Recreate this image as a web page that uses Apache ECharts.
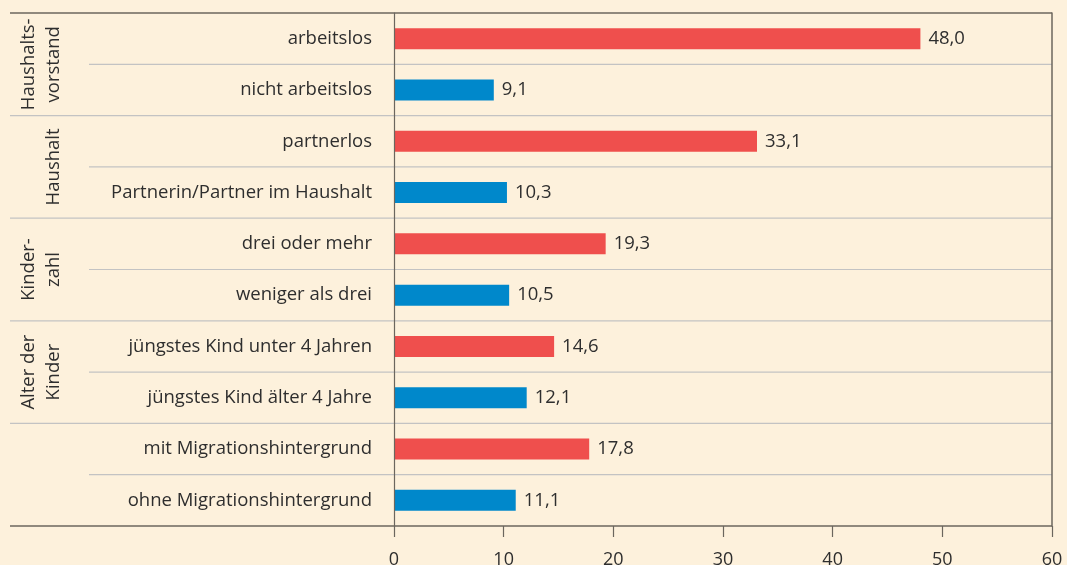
<!DOCTYPE html>
<html>
<head>
<meta charset="utf-8">
<script src="https://cdn.jsdelivr.net/npm/echarts@6/dist/echarts.min.js"></script>
<style>
  html, body { margin: 0; padding: 0; background: #fdf1dc; }
  #chart { width: 1067px; height: 565px; }
</style>
</head>
<body>
<div id="chart"></div>
<script>
// Category rows, top to bottom
const categories = [
  'arbeitslos',
  'nicht arbeitslos',
  'partnerlos',
  'Partnerin/Partner im Haushalt',
  'drei oder mehr',
  'weniger als drei',
  'jüngstes Kind unter 4 Jahren',
  'jüngstes Kind älter 4 Jahre',
  'mit Migrationshintergrund',
  'ohne Migrationshintergrund'
];
// Values in percent
const values = [48.0, 9.1, 33.1, 10.3, 19.3, 10.5, 14.6, 12.1, 17.8, 11.1];
// Group captions, one per pair of rows
const groupNames = ['Haushalts-\nvorstand', 'Haushalt', 'Kinder-\nzahl', 'Alter der\nKinder', ''];
const xTicks = [0, 10, 20, 30, 40, 50, 60];

const RED = '#ef4f4d';
const BLUE = '#0088cb';
const DARK = '#6b665e';
const LIGHT = '#c3c3c3';
const TEXT = '#2e2e2e';
const FONT = '"Open Sans", "Noto Sans", sans-serif';
const FS = 18.5;
const OUTER_LEFT = 10;
const INNER_LEFT = 89;

const chart = echarts.init(document.getElementById('chart'));

chart.setOption({
  backgroundColor: '#fdf1dc',
  animation: false,
  grid: {
    left: 394, right: 15, top: 13, bottom: 39,
    containLabel: false,
    outerBoundsMode: 'none'
  },
  xAxis: {
    type: 'value',
    min: xTicks[0],
    max: xTicks[xTicks.length - 1],
    interval: 10,
    axisLine: { show: false },
    axisTick: { show: true, length: 11, lineStyle: { color: DARK, width: 1.2 } },
    splitLine: { show: false },
    axisLabel: { fontSize: 18, color: TEXT, fontFamily: FONT, margin: 25 }
  },
  yAxis: [{
    type: 'category',
    data: categories,
    inverse: true,
    z: 10,
    axisLine: { show: true, lineStyle: { color: DARK, width: 1.2 } },
    axisTick: { show: false },
    splitLine: { show: false },
    axisLabel: { fontSize: FS, color: TEXT, fontFamily: FONT, margin: 22 }
  }, {
    type: 'category',
    data: categories,
    inverse: true,
    position: 'right',
    z: 10,
    axisLine: { show: true, lineStyle: { color: DARK, width: 1.5 } },
    axisTick: { show: false },
    axisLabel: { show: false },
    splitLine: { show: false }
  }],
  series: [{
    type: 'bar',
    data: values.map((v, i) => ({ value: v, itemStyle: { color: i % 2 === 0 ? RED : BLUE } })),
    barWidth: 21,
    label: {
      show: true,
      position: 'right',
      distance: 8,
      fontSize: FS,
      color: TEXT,
      fontFamily: FONT,
      formatter: p => p.value.toFixed(1).replace('.', ',')
    }
  }, {
    // Row separators and group captions on the left
    type: 'custom',
    clip: false,
    silent: true,
    z: 1,
    data: categories.map((c, i) => [0, i]),
    renderItem: function (params, api) {
      const i = api.value(1);
      const center = api.coord([0, i]);
      const band = api.size([0, 1])[1];
      const top = center[1] - band / 2;
      const right = params.coordSys.x + params.coordSys.width;
      const children = [];
      let x0, color, w;
      if (i === 0) { x0 = OUTER_LEFT; color = DARK; w = 1.5; }
      else if (i % 2 === 0) { x0 = OUTER_LEFT; color = LIGHT; w = 1.2; }
      else { x0 = INNER_LEFT; color = LIGHT; w = 1.2; }
      children.push({
        type: 'line',
        shape: { x1: x0, y1: top, x2: right, y2: top },
        style: { stroke: color, lineWidth: w }
      });
      if (i === categories.length - 1) {
        const bottom = center[1] + band / 2;
        children.push({
          type: 'line',
          shape: { x1: OUTER_LEFT, y1: bottom, x2: right, y2: bottom },
          style: { stroke: DARK, lineWidth: 1.5 }
        });
      }
      if (i % 2 === 0 && groupNames[i / 2]) {
        children.push({
          type: 'text',
          x: 66,
          y: center[1] + band / 2,
          rotation: Math.PI / 2,
          style: {
            text: groupNames[i / 2],
            fontSize: FS,
            fontFamily: FONT,
            fill: TEXT,
            align: 'center',
            verticalAlign: 'bottom',
            lineHeight: 25
          }
        });
      }
      return { type: 'group', children: children };
    }
  }]
});
</script>
</body>
</html>
